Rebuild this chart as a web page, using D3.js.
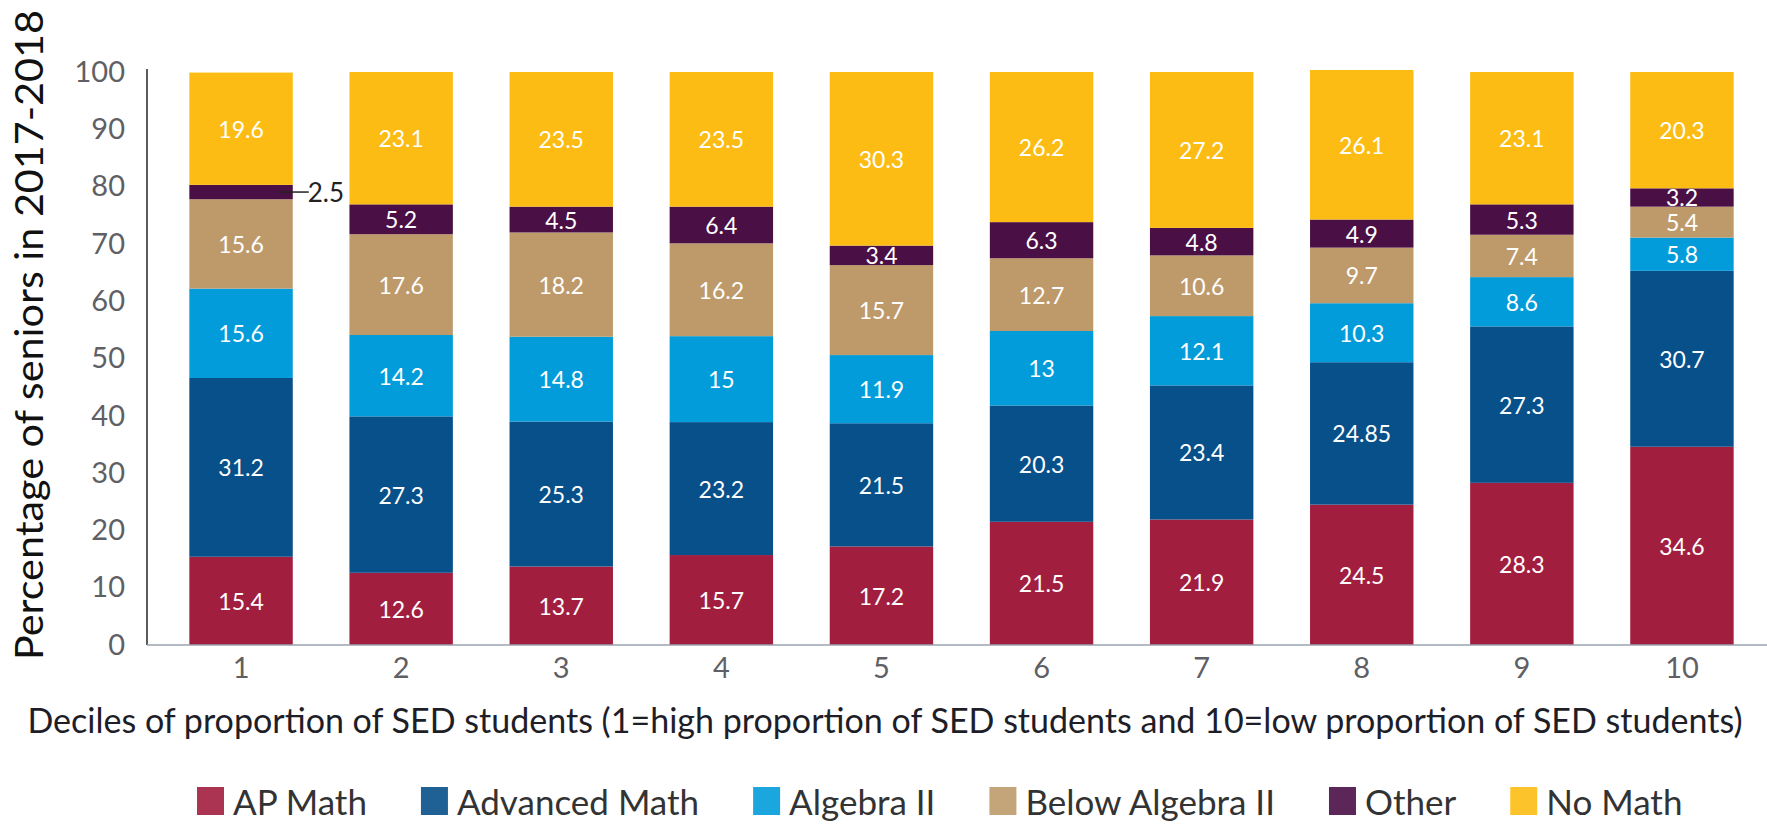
<!DOCTYPE html>
<html>
<head>
<meta charset="utf-8">
<script src="https://cdn.jsdelivr.net/npm/d3@7"></script>
<style>
  html, body { margin: 0; padding: 0; background: #fff; }
  svg { display: block; font-family: Lato, "Open Sans", sans-serif; }
</style>
</head>
<body>
<svg id="chart" width="1767" height="829"></svg>
<script>
// Deciles of the share of socioeconomically disadvantaged (SED) students
const deciles = ["1", "2", "3", "4", "5", "6", "7", "8", "9", "10"];

// Highest math course taken by seniors, percent per decile
const apMath       = [15.4, 12.6, 13.7, 15.7, 17.2, 21.5, 21.9, 24.5, 28.3, 34.6];
const advancedMath = [31.2, 27.3, 25.3, 23.2, 21.5, 20.3, 23.4, 24.85, 27.3, 30.7];
const algebraII    = [15.6, 14.2, 14.8, 15, 11.9, 13, 12.1, 10.3, 8.6, 5.8];
const belowAlgII   = [15.6, 17.6, 18.2, 16.2, 15.7, 12.7, 10.6, 9.7, 7.4, 5.4];
const otherMath    = [2.5, 5.2, 4.5, 6.4, 3.4, 6.3, 4.8, 4.9, 5.3, 3.2];
const noMath       = [19.6, 23.1, 23.5, 23.5, 30.3, 26.2, 27.2, 26.1, 23.1, 20.3];

const seriesNames = ["AP Math", "Advanced Math", "Algebra II", "Below Algebra II", "Other", "No Math"];
const seriesValues = [apMath, advancedMath, algebraII, belowAlgII, otherMath, noMath];
const seriesColors = ["#A21E3F", "#07508A", "#039CDA", "#BE9A6A", "#4A1046", "#FDBC13"];
const yTicks = [0, 10, 20, 30, 40, 50, 60, 70, 80, 90, 100];

const yTitle = "Percentage of seniors in 2017-2018";
const xTitle = "Deciles of proportion of SED students (1=high proportion of SED students and 10=low proportion of SED students)";

// Rows for d3.stack
const rows = deciles.map((d, i) => {
  const r = { decile: d };
  seriesNames.forEach((s, k) => { r[s] = seriesValues[k][i]; });
  return r;
});

const svg = d3.select("#chart");

const x = d3.scaleBand()
  .domain(deciles)
  .range([161, 1762])
  .paddingInner(0.354)
  .paddingOuter(0.177);

const y = d3.scaleLinear()
  .domain([0, 100])
  .range([645, 72]);

const color = d3.scaleOrdinal().domain(seriesNames).range(seriesColors);

const stacked = d3.stack().keys(seriesNames)(rows);

// Bars
const layers = svg.append("g")
  .selectAll("g")
  .data(stacked)
  .join("g")
  .attr("fill", d => color(d.key));

layers.selectAll("rect")
  .data(d => d.map(p => ({ key: d.key, p })))
  .join("rect")
  .attr("x", d => x(d.p.data.decile))
  .attr("width", x.bandwidth())
  .attr("y", d => y(d.p[1]))
  .attr("height", d => y(d.p[0]) - y(d.p[1]));

// Segment labels (the thin 2.5 segment gets a callout instead)
const labelGroup = svg.append("g");
stacked.forEach(layer => {
  layer.forEach(p => {
    const v = p.data[layer.key];
    const cx = x(p.data.decile) + x.bandwidth() / 2;
    const cy = (y(p[0]) + y(p[1])) / 2;
    if (y(p[0]) - y(p[1]) < 16) {
      const x1 = x(p.data.decile) + x.bandwidth();
      labelGroup.append("line")
        .attr("x1", x1 - 14).attr("x2", x1 + 16)
        .attr("y1", cy).attr("y2", cy)
        .attr("stroke", "#222").attr("stroke-width", 1.5);
      labelGroup.append("text")
        .attr("x", x1 + 15).attr("y", cy)
        .attr("dominant-baseline", "central")
        .attr("font-size", 26)
        .attr("fill", "#222")
        .text(v);
    } else {
      labelGroup.append("text")
        .attr("x", cx).attr("y", cy)
        .attr("text-anchor", "middle")
        .attr("dominant-baseline", "central")
        .attr("font-size", 23)
        .attr("fill", "#fff")
        .text(v);
    }
  });
});

// Y axis
const yAxis = svg.append("g")
  .attr("transform", "translate(147,0)")
  .call(d3.axisLeft(y).tickValues(yTicks).tickSize(0).tickPadding(22));
yAxis.select(".domain").remove();
yAxis.selectAll("text")
  .attr("font-size", 29)
  .attr("font-family", "Lato, sans-serif")
  .attr("fill", "#5f5f66");
svg.append("line")
  .attr("x1", 147).attr("x2", 147)
  .attr("y1", y(100) - 3).attr("y2", y(0))
  .attr("stroke", "#333").attr("stroke-width", 1.6);

// X axis
const xAxis = svg.append("g")
  .attr("transform", `translate(0,${y(0)})`)
  .call(d3.axisBottom(x).tickSize(0).tickPadding(12));
xAxis.select(".domain").remove();
xAxis.selectAll("text")
  .attr("font-size", 29)
  .attr("font-family", "Lato, sans-serif")
  .attr("fill", "#5f5f66");
svg.append("line")
  .attr("x1", 147).attr("x2", 1767)
  .attr("y1", y(0)).attr("y2", y(0))
  .attr("stroke", "#9aa3b0").attr("stroke-width", 1.5);

// Axis titles
svg.append("text")
  .attr("transform", "translate(43,335) rotate(-90)")
  .attr("text-anchor", "middle")
  .attr("font-size", 38)
  .attr("fill", "#111")
  .attr("textLength", 650)
  .attr("lengthAdjust", "spacingAndGlyphs")
  .text(yTitle);

// The x title is sized so its natural width fills the space under the plot
const xTitleWidth = 1716;
const xt = svg.append("text")
  .attr("x", 27 + xTitleWidth / 2).attr("y", 733)
  .attr("text-anchor", "middle")
  .attr("font-size", 37)
  .attr("fill", "#1e1e28")
  .text(xTitle);
const natural = xt.node().getComputedTextLength();
if (natural > xTitleWidth) {
  xt.attr("font-size", 37 * xTitleWidth / natural);
}

// Legend
const legend = svg.append("g");
let lx = 197;
seriesNames.forEach((name, k) => {
  legend.append("rect")
    .attr("x", lx).attr("y", 787)
    .attr("width", 27).attr("height", 28)
    .attr("fill", seriesColors[k])
    .attr("fill-opacity", 0.9);
  const t = legend.append("text")
    .attr("x", lx + 36).attr("y", 815)
    .attr("font-size", 35)
    .attr("fill", "#333")
    .text(name);
  lx += 36 + t.node().getComputedTextLength() + 54;
});
</script>
</body>
</html>
